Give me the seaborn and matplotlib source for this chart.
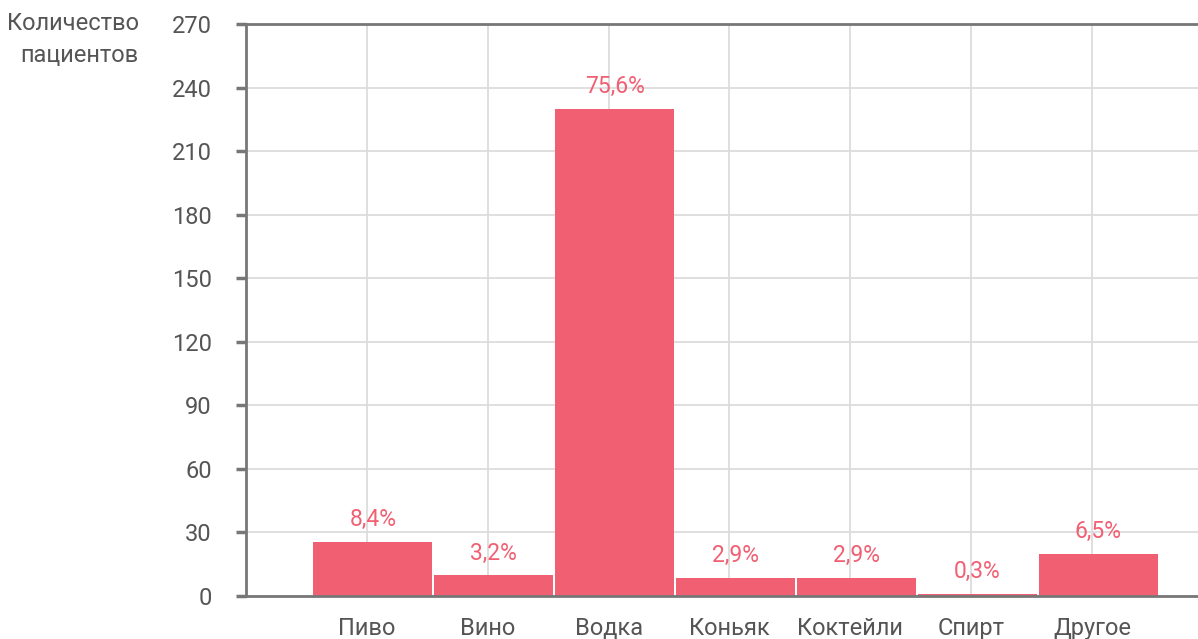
import matplotlib
matplotlib.use("Agg")
import matplotlib.pyplot as plt
import seaborn as sns
import pandas as pd

# Patients by main type of alcohol consumed
categories = ["Пиво", "Вино", "Водка", "Коньяк", "Коктейли", "Спирт", "Другое"]
patients = [25.4, 9.7, 230.0, 8.7, 8.7, 0.9, 19.8]
shares = [8.4, 3.2, 75.6, 2.9, 2.9, 0.3, 6.5]
y_ticks = [0, 30, 60, 90, 120, 150, 180, 210, 240, 270]

sns.set_theme(style="white")
plt.rcParams["font.family"] = ["Roboto", "DejaVu Sans"]

BAR = "#F06072"
TEXT = "#555555"
AXIS = "#777777"
GRID = "#DCDCDC"

df = pd.DataFrame({"category": categories, "patients": patients, "share": shares})

W, H = 1198, 639
fig = plt.figure(figsize=(W / 100, H / 100), dpi=100)
ax = fig.add_axes([246 / W, 1 - 596 / H, 1 - 246 / W, (596 - 24) / H])

sns.barplot(data=df, x="category", y="patients", color=BAR, saturation=1,
            width=0.985, linewidth=0, ax=ax)

# bars sit a touch right of their category line
for p in ax.patches:
    p.set_x(p.get_x() + 0.05)

ax.set_xlim(-1.0, 6.877)
ax.set_ylim(0, 270)
ax.set_yticks(y_ticks)
ax.set_yticklabels([str(t) for t in y_ticks])
ax.set_xlabel("")
ax.set_ylabel("")

ax.set_axisbelow(True)
ax.grid(True, color=GRID, linewidth=1.3)

for side in ("left", "bottom", "top"):
    ax.spines[side].set_visible(True)
    ax.spines[side].set_color(AXIS)
    ax.spines[side].set_linewidth(2)
ax.spines["right"].set_visible(False)

ax.tick_params(axis="y", length=7.5, width=2.5, color=AXIS, pad=17,
               labelsize=17, labelcolor=TEXT, left=True)
ax.tick_params(axis="x", length=0, pad=15, labelsize=17, labelcolor=TEXT)

for p, s in zip(ax.patches, shares):
    ax.annotate(f"{s:.1f}".replace(".", ",") + "%",
                xy=(p.get_x() + p.get_width() / 2, p.get_height()),
                xytext=(0, 16), textcoords="offset points",
                ha="center", va="center", color=BAR, fontsize=16.5)

fig.text(139 / W, 1 - 24 / H, "Количество", ha="right", va="center",
         fontsize=17, color=TEXT)
fig.text(139 / W, 1 - 56 / H, "пациентов", ha="right", va="center",
         fontsize=17, color=TEXT)

fig.savefig("out.png", dpi=100)
